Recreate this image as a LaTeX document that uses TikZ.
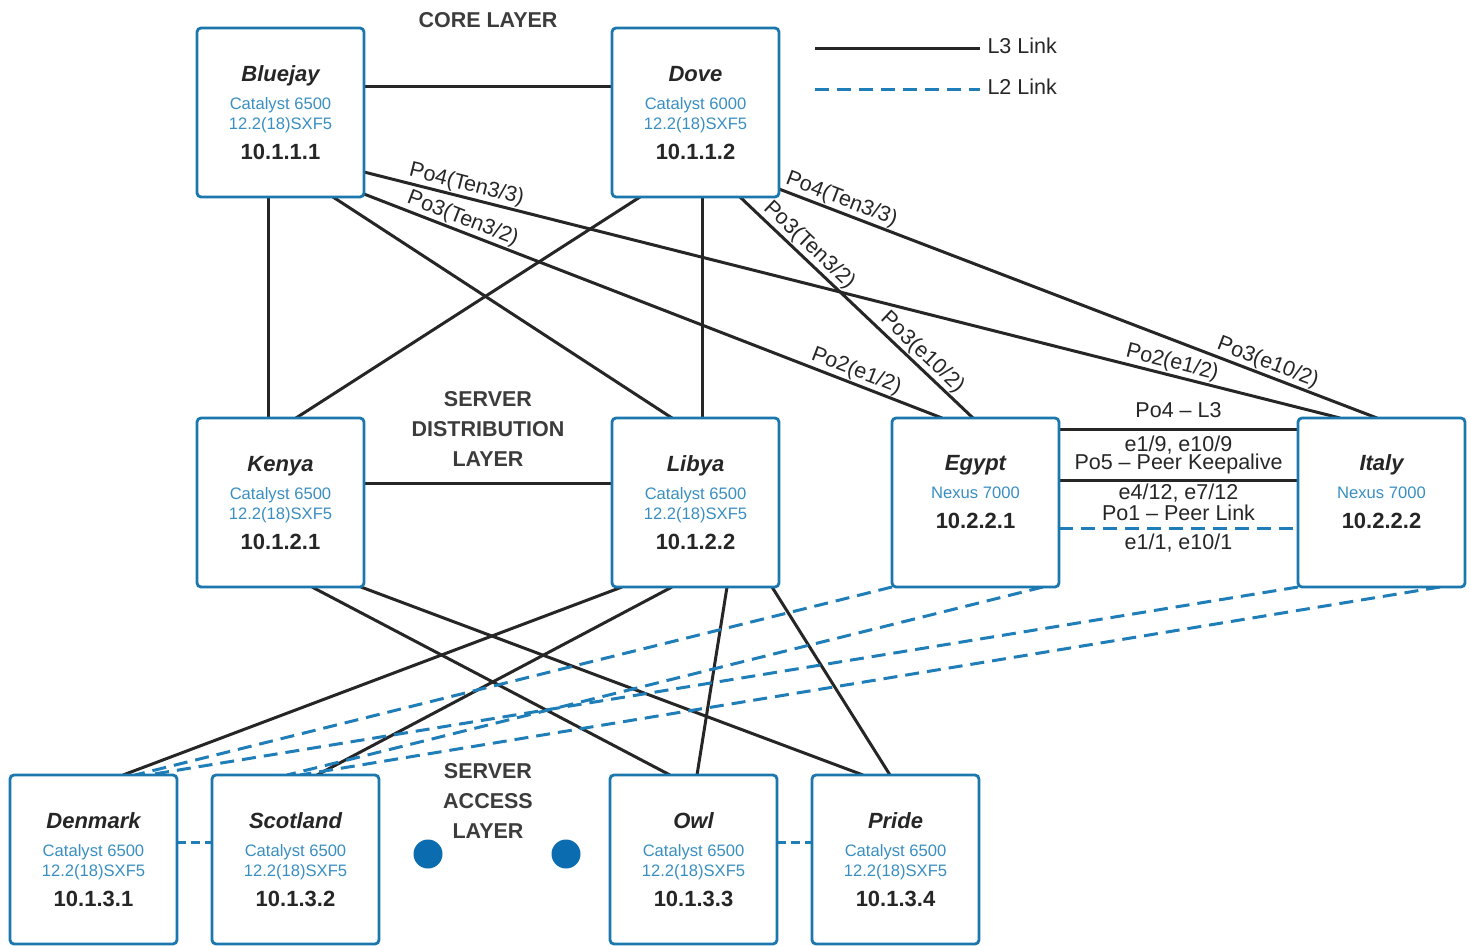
\documentclass[tikz,border=0pt]{standalone}
\usepackage{fontspec}
\setmainfont{Liberation Sans}
\usetikzlibrary{backgrounds}
\definecolor{boxblue}{HTML}{1B77AD}
\definecolor{txtblue}{HTML}{3A8FC2}
\definecolor{ltwo}{HTML}{1F7DB8}
\definecolor{dotblue}{HTML}{0B6CB0}
\definecolor{ink}{HTML}{262626}
\newcommand\devbox[7]{%
  \node[box] (#1) at (#2,#3) {};
  \node[devname] (#1-n) at ([yshift=-53pt]#1.north) {#4};
  \node[model] (#1-m) at ([yshift=-81pt]#1.north) {#5};
  \node[model] (#1-v) at ([yshift=-101pt]#1.north) {#6};
  \node[ipaddr] (#1-ip) at ([yshift=-131pt]#1.north) {#7};
}
\newcommand\nexbox[5]{%
  \node[box] (#1) at (#2,#3) {};
  \node[devname] (#1-n) at ([yshift=-52pt]#1.north) {#4};
  \node[model] (#1-m) at ([yshift=-80pt]#1.north) {Nexus 7000};
  \node[ipaddr] (#1-ip) at ([yshift=-110pt]#1.north) {#5};
}
\begin{document}
\begin{tikzpicture}[x=1pt,y=-1pt,
  box/.style={draw=boxblue, line width=2.8pt, rounded corners=4pt, fill=white,
    minimum width=167pt, minimum height=169pt, anchor=north west, inner sep=0pt, outer sep=0pt},
  devname/.style={font=\fontsize{22}{22}\selectfont\bfseries\itshape, text=ink, anchor=base, inner sep=0pt},
  model/.style={font=\fontsize{16.6}{16}\selectfont, text=txtblue, anchor=base, inner sep=0pt},
  ipaddr/.style={font=\fontsize{22}{22}\selectfont\bfseries, text=ink, anchor=base, inner sep=0pt},
  lthree/.style={line width=3pt, draw=ink},
  ltwo/.style={line width=3pt, draw=ltwo, dash pattern=on 14pt off 8pt},
  lab/.style={font=\fontsize{21.5}{21.5}\selectfont, text=ink, text height=15pt, text depth=4pt, inner sep=0pt},
  elab/.style={lab, sloped, above, inner sep=1.5pt},
  layer/.style={font=\fontsize{21.5}{30}\selectfont\bfseries, text=ink!90, align=center, inner sep=0pt},
  dot/.style={circle, fill=dotblue, minimum size=29pt, inner sep=0pt},
]
\useasboundingbox (0,0) rectangle (1471,945);

% devices
\devbox{bluejay}{197}{28}{Bluejay}{Catalyst 6500}{12.2(18)SXF5}{10.1.1.1}
\devbox{dove}{612}{28}{Dove}{Catalyst 6000}{12.2(18)SXF5}{10.1.1.2}
\devbox{kenya}{197}{418}{Kenya}{Catalyst 6500}{12.2(18)SXF5}{10.1.2.1}
\devbox{libya}{612}{418}{Libya}{Catalyst 6500}{12.2(18)SXF5}{10.1.2.2}
\nexbox{egypt}{892}{418}{Egypt}{10.2.2.1}
\nexbox{italy}{1298}{418}{Italy}{10.2.2.2}
\devbox{denmark}{10}{775}{Denmark}{Catalyst 6500}{12.2(18)SXF5}{10.1.3.1}
\devbox{scotland}{212}{775}{Scotland}{Catalyst 6500}{12.2(18)SXF5}{10.1.3.2}
\devbox{owl}{610}{775}{Owl}{Catalyst 6500}{12.2(18)SXF5}{10.1.3.3}
\devbox{pride}{812}{775}{Pride}{Catalyst 6500}{12.2(18)SXF5}{10.1.3.4}

% layer labels
\node[layer] (core) at (488,20) {CORE LAYER};
\node[layer] (dist) at (488,429) {SERVER\\DISTRIBUTION\\LAYER};
\node[layer] (acc) at (488,801) {SERVER\\ACCESS\\LAYER};
\node[dot] (dot1) at (428,854) {};
\node[dot] (dot2) at (566,854) {};

% legend
\coordinate (lga) at (815,48);
\coordinate (lgb) at (980,48);
\coordinate (lgc) at (815,89);
\coordinate (lgd) at (980,89);
\draw[lthree] (lga) -- (lgb) node[lab, right=6pt] (lgt3) {L3 Link};
\draw[ltwo] (lgc) -- (lgd) node[lab, right=6pt] (lgt2) {L2 Link};

\begin{scope}[on background layer]
% core
\draw[lthree] ([yshift=26pt]bluejay.east) -- ([yshift=26pt]dove.west);
\draw[lthree] ([xshift=71pt]bluejay.south west) -- ([xshift=71pt]kenya.north west);
\draw[lthree] ([xshift=136pt]bluejay.south west) -- ([xshift=60pt]libya.north west);
\draw[lthree] ([yshift=-144pt]bluejay.north east) -- ([xshift=42pt]italy.north west)
  node[elab, pos=0.102] {Po4(Ten3/3)} node[elab, pos=0.825] {Po2(e1/2)};
\draw[lthree] ([yshift=3pt]bluejay.south east) -- ([xshift=50pt]egypt.north west)
  node[elab, pos=0.163] {Po3(Ten3/2)} node[elab, pos=0.844] {Po2(e1/2)};
\draw[lthree] ([xshift=28pt]dove.south west) -- ([xshift=99pt]kenya.north west);
\draw[lthree] ([xshift=90pt]dove.south west) -- ([xshift=90pt]libya.north west);
\draw[lthree] ([xshift=128pt]dove.south west) -- ([xshift=81pt]egypt.north west)
  node[elab, pos=0.26] {Po3(Ten3/2)} node[elab, pos=0.745] {Po3(e10/2)};
\draw[lthree] ([yshift=8pt]dove.south east) -- ([xshift=79pt]italy.north west)
  node[elab, pos=0.097] {Po4(Ten3/3)} node[elab, pos=0.81] {Po3(e10/2)};
% distribution
\draw[lthree] ([yshift=19.5pt]kenya.east) -- ([yshift=19.5pt]libya.west);
\draw[lthree] ([yshift=-11pt]egypt.north east) -- ([yshift=-11pt]italy.north west)
  node[lab, midway, yshift=17pt] {Po4 -- L3} node[lab, midway, yshift=-17pt] {e1/9, e10/9};
\draw[lthree] ([yshift=-62pt]egypt.north east) -- ([yshift=-62pt]italy.north west)
  node[lab, midway, yshift=16pt] {Po5 -- Peer Keepalive} node[lab, midway, yshift=-14pt] {e4/12, e7/12};
\draw[ltwo] ([yshift=-110pt]egypt.north east) -- ([yshift=-110pt]italy.north west)
  node[lab, midway, yshift=13pt] {Po1 -- Peer Link} node[lab, midway, yshift=-16pt] {e1/1, e10/1};
% distribution to access
\draw[lthree] ([xshift=115pt]kenya.south west) -- ([xshift=60pt]owl.north west);
\draw[lthree] ([xshift=164pt]kenya.south west) -- ([xshift=51pt]pride.north west);
\draw[lthree] ([xshift=10pt]libya.south west) -- ([xshift=113pt]denmark.north west);
\draw[lthree] ([xshift=60pt]libya.south west) -- ([xshift=105pt]scotland.north west);
\draw[lthree] ([xshift=115pt]libya.south west) -- ([xshift=87pt]owl.north west);
\draw[lthree] ([xshift=160pt]libya.south west) -- ([xshift=78pt]pride.north west);
\draw[ltwo] (egypt.south west) -- ([xshift=125pt]denmark.north west);
\draw[ltwo] ([xshift=151pt]egypt.south west) -- ([xshift=75pt]scotland.north west);
\draw[ltwo] (italy.south west) -- ([xshift=138pt]denmark.north west);
\draw[ltwo] ([xshift=142pt]italy.south west) -- ([xshift=88pt]scotland.north west);
% access
\draw[ltwo, dash pattern=on 9pt off 5pt] ([yshift=17.5pt]denmark.east) -- ([yshift=17.5pt]scotland.west);
\draw[ltwo, dash pattern=on 9pt off 5pt] ([yshift=17.5pt]owl.east) -- ([yshift=17.5pt]pride.west);
\end{scope}
\end{tikzpicture}
\end{document}
